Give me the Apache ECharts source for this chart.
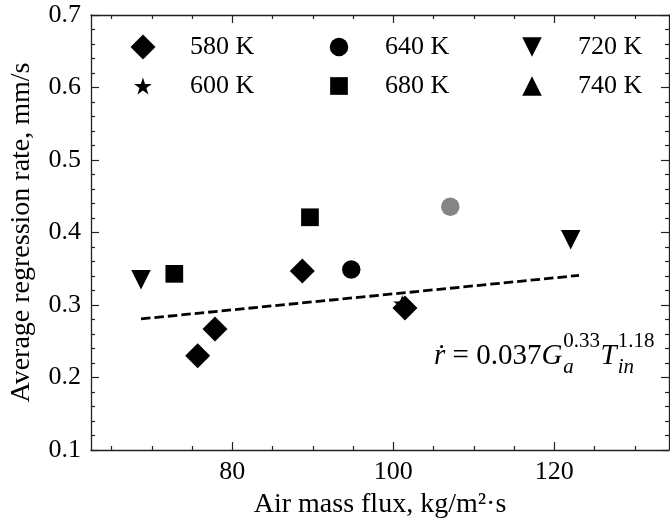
<!DOCTYPE html>
<html><head><meta charset="utf-8">
<script src="https://cdn.jsdelivr.net/npm/echarts@6/dist/echarts.min.js"></script>
<style>html,body{margin:0;padding:0;background:#fff}#c{width:670px;height:524px}</style>
</head><body><div id="c"></div>
<script>
// ---- data ----
const xMin = 62.45, xMax = 134.25;
const yMin = 0.1, yMax = 0.7;
const xMajorTicks = [80, 100, 120];
const xMinorTicks = [65, 70, 75, 85, 90, 95, 105, 110, 115, 125, 130];
const seriesNames = ['580 K', '600 K', '640 K', '680 K', '720 K', '740 K'];
const s580 = [[75.7, 0.230], [77.85, 0.267], [88.7, 0.347], [101.45, 0.296]];
const s600 = [[101.1, 0.302]];
const s640 = [[94.78, 0.349]];
const s640Grey = [[107.08, 0.4355]];
const s680 = [[72.8, 0.343], [89.65, 0.421]];
const s720 = [[68.66, 0.335], [122.04, 0.390]];
const s740 = [];
const fitLine = [[68.66, 0.2808], [123.07, 0.3408]];

// ---- styling ----
const FF = '"Liberation Serif", "Times New Roman", serif';
const FS = 26;      // tick labels & legend
const FT = 28;      // axis titles
const AX = '#222';
const STAR = 'path://M50,0 L61.23,34.55 L97.55,34.55 L68.17,55.9 L79.39,90.45 L50,69.1 L20.61,90.45 L31.83,55.9 L2.45,34.55 L38.77,34.55 Z';
const TRI_DOWN = 'path://M0,0 L2,0 L1,2 Z';
const symbols = {
  '580 K': {symbol: 'diamond', size: [25, 25]},
  '600 K': {symbol: STAR, size: [18, 17]},
  '640 K': {symbol: 'circle', size: [18.5, 18.5]},
  '680 K': {symbol: 'rect', size: [17.7, 17.7]},
  '720 K': {symbol: TRI_DOWN, size: [19.5, 19.5]},
  '740 K': {symbol: 'triangle', size: [19.5, 19.5]}
};
const seriesData = {
  '580 K': s580, '600 K': s600,
  '640 K': s640.concat(s640Grey.map(p => ({value: p, itemStyle: {color: '#858585'}}))),
  '680 K': s680, '720 K': s720, '740 K': s740
};

function xAx(pos, vals, len, showLine, showLabel, name) {
  return {
    type: 'value', position: pos, min: xMin, max: xMax,
    name: name || '', nameLocation: 'middle', nameGap: 41,
    nameTextStyle: {fontFamily: FF, fontSize: FT, color: '#000'},
    axisLine: {show: showLine, onZero: false, lineStyle: {color: AX, width: 1.3}},
    axisTick: {show: true, inside: true, length: len, customValues: vals, lineStyle: {color: AX, width: 1.2}},
    axisLabel: {show: showLabel, customValues: vals, margin: 9, fontFamily: FF, fontSize: FS, color: '#000'},
    splitLine: {show: false}
  };
}
function yAx(pos, showLabel, name) {
  return {
    type: 'value', position: pos, min: yMin, max: yMax, interval: 0.1,
    name: name || '', nameLocation: 'middle', nameGap: 55,
    nameTextStyle: {fontFamily: FF, fontSize: FT, color: '#000'},
    axisLine: {show: true, onZero: false, lineStyle: {color: AX, width: 1.3}},
    axisTick: {show: true, inside: true, length: 8, lineStyle: {color: AX, width: 1.2}},
    minorTick: {show: true, splitNumber: 5, length: 4, lineStyle: {color: AX, width: 1.2}},
    axisLabel: {show: showLabel, margin: 10, formatter: v => v.toFixed(1), fontFamily: FF, fontSize: FS, color: '#000'},
    splitLine: {show: false}, minorSplitLine: {show: false}
  };
}

const series = seriesNames.map(n => ({
  name: n, type: 'scatter', xAxisIndex: 0, yAxisIndex: 0,
  symbol: symbols[n].symbol, symbolSize: symbols[n].size,
  itemStyle: {color: '#000', opacity: 1},
  emphasis: {disabled: true},
  data: seriesData[n]
}));
series.push({
  name: 'fit', type: 'line', xAxisIndex: 0, yAxisIndex: 0,
  showSymbol: false, symbol: 'none', silent: true,
  lineStyle: {color: '#000', width: 2.8, type: [9.5, 4]},
  data: fitLine
});

// legend: 3 columns x 2 rows, one legend component per entry
const colX = [143, 339, 532], textX = [190, 385, 578], rowY = [47, 86];
const legends = seriesNames.map((n, i) => {
  const col = Math.floor(i / 2), row = i % 2;
  const w = symbols[n].size[0], h = symbols[n].size[1];
  const left = colX[col] - w / 2;
  const padLeft = textX[col] - (left + w + 5);
  return {
    data: [n], left: left, top: rowY[row] - 15, padding: 0,
    itemWidth: w, itemHeight: h, itemGap: 0, selectedMode: false,
    textStyle: {fontFamily: FF, fontSize: FS, color: '#000', lineHeight: 30, padding: [0, 0, 0, padLeft]}
  };
});

// annotation  r-dot = 0.037 G_a^0.33 T_in^1.18
const ctx = document.createElement('canvas').getContext('2d');
function tw(t, f) { ctx.font = f; return ctx.measureText(t).width; }
const fm = 29, fs2 = 21;
const fMain = fm + 'px ' + FF, fMainI = 'italic ' + fm + 'px ' + FF;
const fSmall = fs2 + 'px ' + FF, fSmallI = 'italic ' + fs2 + 'px ' + FF;
const pieces = [
  {t: 'ṙ', f: fMainI},
  {t: ' = 0.037', f: fMain},
  {t: 'G', f: fMainI},
  {sub: 'a', sup: '0.33'},
  {t: 'T', f: fMainI},
  {sub: 'in', sup: '1.18'}
];
let total = 0;
pieces.forEach(p => {
  if (p.t) p.w = tw(p.t, p.f);
  else p.w = Math.max(tw(p.sub, fSmallI), tw(p.sup, fSmall)) + 1.5;
  total += p.w;
});
const annRight = 655, yMain = 356, ySup = 341, ySub = 367;
let cx = annRight - total;
const graphics = [];
pieces.forEach(p => {
  if (p.t) {
    graphics.push({type: 'text', silent: true, style: {text: p.t, x: cx, y: yMain, font: p.f, fill: '#000', textVerticalAlign: 'middle'}});
  } else {
    graphics.push({type: 'text', silent: true, style: {text: p.sup, x: cx + 1, y: ySup, font: fSmall, fill: '#000', textVerticalAlign: 'middle'}});
    graphics.push({type: 'text', silent: true, style: {text: p.sub, x: cx + 1, y: ySub, font: fSmallI, fill: '#000', textVerticalAlign: 'middle'}});
  }
  cx += p.w;
});

const option = {
  animation: false,
  backgroundColor: '#fff',
  grid: {left: 91, right: 1, top: 15, bottom: 73.5, containLabel: false},
  xAxis: [
    xAx('bottom', xMajorTicks, 8, true, true, 'Air mass flux, kg/m²·s'),
    xAx('bottom', xMinorTicks, 4, false, false),
    xAx('top', xMajorTicks, 8, true, false),
    xAx('top', xMinorTicks, 4, false, false)
  ],
  yAxis: [
    yAx('left', true, 'Average regression rate, mm/s'),
    yAx('right', false)
  ],
  legend: legends,
  series: series,
  graphic: graphics
};
const chart = echarts.init(document.getElementById('c'), null, {renderer: 'canvas'});
chart.setOption(option);
</script>
</body></html>
